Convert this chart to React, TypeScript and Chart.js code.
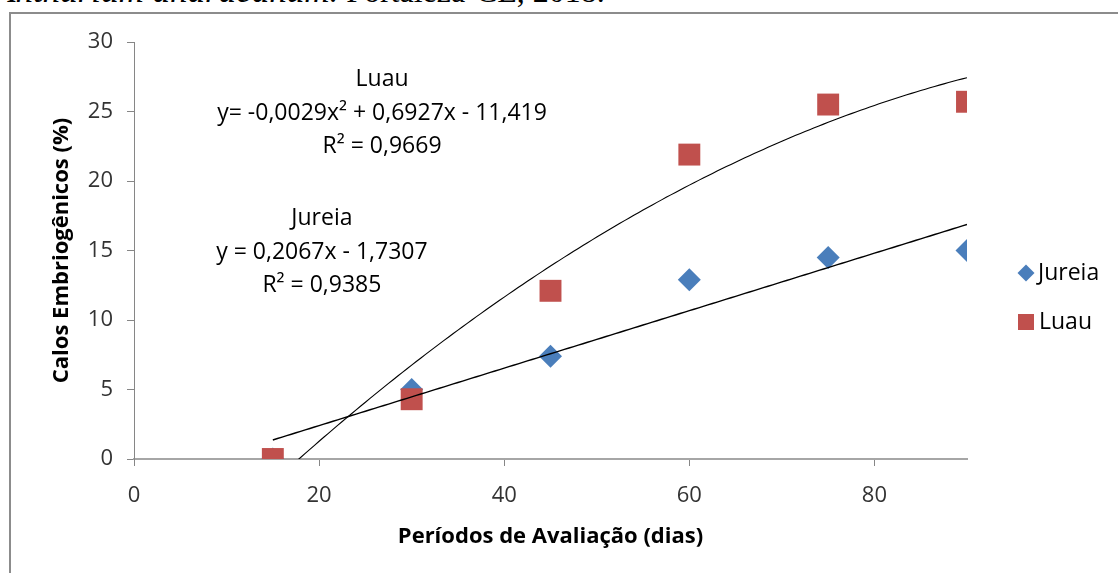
import React, { useEffect, useRef } from "react";
import { Chart, registerables } from "chart.js";

Chart.register(...registerables);

// ---- data ----
const days = [15, 30, 45, 60, 75, 90];
const jureia = [0, 5.0, 7.4, 12.9, 14.5, 15.0];
const luau = [0, 4.3, 12.1, 21.9, 25.5, 25.7];
const seriesNames = ["Jureia", "Luau"];
// trendline coefficients (c0, c1, c2) as printed on the chart
const jureiaTrend = [-1.7307, 0.2067];
const luauTrend = [-11.419, 0.6927, -0.0029];
const luauLabel = ["Luau", "y= -0,0029x² + 0,6927x - 11,419", "R² = 0,9669"];
const jureiaLabel = ["Jureia", "y = 0,2067x - 1,7307", "R² = 0,9385"];
const xTitle = "Períodos de Avaliação (dias)";
const yTitle = "Calos Embriogênicos (%)";

const BLUE = "#4a7ebb";
const RED = "#c0504d";
const FONT = "'Open Sans', 'Noto Sans', sans-serif";

const evalPoly = (c: number[], x: number) => c.reduce((s, v, i) => s + v * Math.pow(x, i), 0);

const trendPlugin = {
  id: "trend",
  afterDatasetsDraw(chart: any) {
    const { ctx, chartArea, scales } = chart;
    const xs = scales.x;
    const ys = scales.y;
    ctx.save();
    ctx.beginPath();
    ctx.rect(chartArea.left, chartArea.top, chartArea.right - chartArea.left, chartArea.bottom - chartArea.top);
    ctx.clip();
    const drawTrend = (c: number[], width: number) => {
      ctx.beginPath();
      const x0 = days[0];
      const x1 = days[days.length - 1];
      for (let i = 0; i <= 150; i++) {
        const x = x0 + ((x1 - x0) * i) / 150;
        const px = xs.getPixelForValue(x);
        const py = ys.getPixelForValue(evalPoly(c, x));
        if (i === 0) ctx.moveTo(px, py);
        else ctx.lineTo(px, py);
      }
      ctx.strokeStyle = "#000";
      ctx.lineWidth = width;
      ctx.stroke();
    };
    drawTrend(jureiaTrend, 1.4);
    drawTrend(luauTrend, 1.1);
    ctx.restore();

    // equation labels
    ctx.save();
    ctx.font = `23px ${FONT}`;
    ctx.fillStyle = "#000";
    ctx.textAlign = "center";
    ctx.textBaseline = "middle";
    const drawLabel = (lines: string[], ax: number, ay: number) => {
      const px = xs.getPixelForValue(ax);
      const py = ys.getPixelForValue(ay);
      lines.forEach((t, i) => ctx.fillText(t, px, py + i * 33.5));
    };
    drawLabel(luauLabel, 26.8, 27.3);
    drawLabel(jureiaLabel, 20.3, 17.3);
    ctx.restore();

    // legend
    ctx.save();
    ctx.font = `23px ${FONT}`;
    ctx.textAlign = "left";
    ctx.textBaseline = "middle";
    const lx = 1026;
    const ly = [273, 322];
    ctx.fillStyle = BLUE;
    ctx.beginPath();
    ctx.moveTo(lx, ly[0] - 8.5);
    ctx.lineTo(lx + 8.5, ly[0]);
    ctx.lineTo(lx, ly[0] + 8.5);
    ctx.lineTo(lx - 8.5, ly[0]);
    ctx.closePath();
    ctx.fill();
    ctx.fillStyle = RED;
    ctx.fillRect(lx - 8, ly[1] - 8, 16, 16);
    ctx.fillStyle = "#000";
    ctx.fillText(seriesNames[0], lx + 12, ly[0]);
    ctx.fillText(seriesNames[1], lx + 13, ly[1]);
    ctx.restore();
  },
};

export default function App() {
  const ref = useRef<HTMLCanvasElement | null>(null);
  useEffect(() => {
    if (!ref.current) return;
    const chart = new Chart(ref.current, {
      type: "scatter",
      data: {
        datasets: [
          {
            label: seriesNames[0],
            data: days.map((d, i) => ({ x: d, y: jureia[i] })),
            backgroundColor: BLUE,
            borderColor: BLUE,
            pointStyle: "rectRot",
            pointRadius: 11.5,
            pointBorderWidth: 0,
            order: 2,
          },
          {
            label: seriesNames[1],
            data: days.map((d, i) => ({ x: d, y: luau[i] })),
            backgroundColor: RED,
            borderColor: RED,
            pointStyle: "rect",
            pointRadius: 15.5,
            pointBorderWidth: 0,
            order: 1,
          },
        ],
      },
      options: {
        responsive: false,
        animation: false,
        devicePixelRatio: 1,
        layout: { padding: { left: 0, top: 42, right: 151, bottom: 0 } },
        plugins: { legend: { display: false }, tooltip: { enabled: false } },
        scales: {
          x: {
            type: "linear",
            min: 0,
            max: 90,
            afterFit: (s: any) => {
              s.height = 114;
            },
            ticks: {
              stepSize: 20,
              includeBounds: false,
              padding: 17,
              color: "#333",
              font: { family: FONT, size: 22 },
            },
            grid: { drawOnChartArea: false, drawTicks: true, tickLength: 7, color: "#868686" },
            border: { color: "#a6a6a6", width: 2 },
            title: {
              display: true,
              text: xTitle,
              color: "#000",
              font: { family: FONT, size: 22, weight: "bold" },
              padding: { top: 0, bottom: 23 },
            },
          },
          y: {
            type: "linear",
            min: 0,
            max: 30,
            afterFit: (s: any) => {
              s.width = 134;
            },
            ticks: {
              stepSize: 5,
              padding: 14,
              color: "#333",
              font: { family: FONT, size: 22 },
            },
            grid: { drawOnChartArea: false, drawTicks: true, tickLength: 7, color: "#868686" },
            border: { color: "#868686", width: 1 },
            title: {
              display: true,
              text: yTitle,
              color: "#000",
              font: { family: FONT, size: 22, weight: "bold" },
              padding: { top: 49, bottom: 0 },
            },
          },
        },
      },
      plugins: [trendPlugin],
    } as any);
    return () => chart.destroy();
  }, []);

  return (
    <div style={{ position: "fixed", left: 0, top: 0, width: 1118, height: 573, overflow: "hidden", background: "#fff" }}>
      <div
        style={{
          position: "absolute",
          left: -6,
          top: -25,
          fontFamily: "'Liberation Serif', serif",
          fontSize: 32,
          lineHeight: "32px",
          whiteSpace: "nowrap",
          color: "#000",
        }}
      >
        <i style={{ fontSize: 35 }}>Anthurium andraeanum.</i> Fortaleza-CE, 2018.
      </div>
      <div
        style={{
          position: "absolute",
          left: 9,
          top: 12,
          width: 1200,
          height: 700,
          border: "2px solid #8c8c8c",
          boxSizing: "border-box",
        }}
      />
      <canvas
        ref={ref}
        width={1118}
        height={573}
        style={{ position: "absolute", left: 0, top: 0, width: 1118, height: 573 }}
      />
    </div>
  );
}
